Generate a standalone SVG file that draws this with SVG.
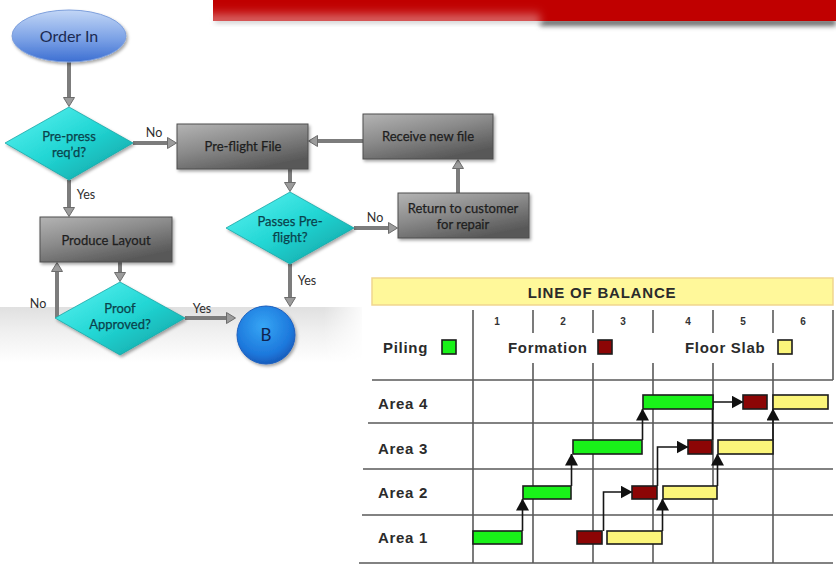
<svg xmlns="http://www.w3.org/2000/svg" width="836" height="570" viewBox="0 0 836 570">
  <defs>
    <style>
      .fc-text { font-family: "Lato", "Open Sans", "Liberation Sans", sans-serif; font-size: 13px; fill: #1e1e1e; text-anchor: middle; stroke: #1e1e1e; stroke-width: 0.25; }
      .dia-text { font-family: "Lato", "Open Sans", "Liberation Sans", sans-serif; font-size: 13px; fill: #0a434c; text-anchor: middle; stroke: #0a434c; stroke-width: 0.25; }
      .lbl { font-family: "Lato", "Open Sans", "Liberation Sans", sans-serif; font-size: 12.5px; fill: #2e2e2e; text-anchor: middle; }
      .box { fill: url(#boxGrad); stroke: #4e4e4e; stroke-width: 1; filter: url(#shadow); }
      .dia { fill: url(#diaGrad); stroke: #1aa6a6; stroke-width: 0.8; filter: url(#shadow); }
      .conn { fill: none; stroke: #7c7c7c; stroke-width: 4; marker-end: url(#fcArrow); }
      .lob-text { font-family: "Liberation Sans", Arial, sans-serif; font-weight: bold; font-size: 15px; fill: #2b2b2b; letter-spacing: 0.7px; }
      .lob-num { font-family: "Liberation Sans", Arial, sans-serif; font-weight: bold; font-size: 10px; fill: #333333; text-anchor: middle; }
      .grid { stroke: #5a5a5a; stroke-width: 1.6; fill: none; }
      .bar { stroke: #1c1c1c; stroke-width: 1.6; }
      .green { fill: #19f219; }
      .red { fill: #8c0505; }
      .yellow { fill: #fbf57a; }
      .lob-link { fill: none; stroke: #151515; stroke-width: 1.6; marker-end: url(#lobArrow); }
    </style>
    <linearGradient id="boxGrad" x1="0" y1="0" x2="0.6" y2="1">
      <stop offset="0" stop-color="#b4b4b4"/>
      <stop offset="0.5" stop-color="#8a8a8a"/>
      <stop offset="1" stop-color="#585858"/>
    </linearGradient>
    <linearGradient id="diaGrad" x1="0" y1="0" x2="1" y2="1">
      <stop offset="0" stop-color="#5ef5f3"/>
      <stop offset="0.5" stop-color="#22d6d4"/>
      <stop offset="1" stop-color="#0f9c9e"/>
    </linearGradient>
    <linearGradient id="ovalGrad" x1="0" y1="0" x2="0" y2="1">
      <stop offset="0" stop-color="#c2d6f6"/>
      <stop offset="0.55" stop-color="#7ca2e6"/>
      <stop offset="1" stop-color="#3d6fd2"/>
    </linearGradient>
    <radialGradient id="circGrad" cx="0.45" cy="0.35" r="0.7">
      <stop offset="0" stop-color="#36a6f5"/>
      <stop offset="0.7" stop-color="#1d78dc"/>
      <stop offset="1" stop-color="#1654b2"/>
    </radialGradient>
    <linearGradient id="bandGrad" x1="0" y1="0" x2="0" y2="1">
      <stop offset="0" stop-color="#e0e0e0"/>
      <stop offset="0.45" stop-color="#f0f0f0"/>
      <stop offset="1" stop-color="#ffffff"/>
    </linearGradient>
    <linearGradient id="bandFade" x1="0" y1="0" x2="1" y2="0">
      <stop offset="0" stop-color="#ffffff"/>
      <stop offset="0.88" stop-color="#ffffff"/>
      <stop offset="1" stop-color="#000000"/>
    </linearGradient>
    <mask id="bandMask">
      <rect x="0" y="300" width="368" height="70" fill="url(#bandFade)"/>
    </mask>
    <linearGradient id="sheen" x1="0" y1="0" x2="0" y2="1">
      <stop offset="0" stop-color="#ffffff" stop-opacity="0"/>
      <stop offset="1" stop-color="#ffffff" stop-opacity="0.6"/>
    </linearGradient>
    <clipPath id="barClip">
      <rect x="213" y="0" width="623" height="21"/>
    </clipPath>
    <filter id="shadow" x="-20%" y="-20%" width="140%" height="150%">
      <feDropShadow dx="1.5" dy="2" stdDeviation="1.5" flood-color="#000000" flood-opacity="0.35"/>
    </filter>
    <filter id="soft" x="-10%" y="-100%" width="120%" height="300%">
      <feGaussianBlur stdDeviation="2.5"/>
    </filter>
    <filter id="softer" x="-20%" y="-50%" width="140%" height="200%">
      <feGaussianBlur stdDeviation="4"/>
    </filter>
    <marker id="fcArrow" markerUnits="userSpaceOnUse" viewBox="0 0 10 12" markerWidth="10" markerHeight="12" refX="0" refY="6" orient="auto">
      <path d="M0.5,0.5 L9.5,6 L0.5,11.5 Z" fill="#9c9c9c" stroke="#6c6c6c" stroke-width="1"/>
    </marker>
    <marker id="lobArrow" markerUnits="userSpaceOnUse" viewBox="0 0 12 13" markerWidth="12" markerHeight="13" refX="11.5" refY="6.5" orient="auto">
      <path d="M0,0 L12,6.5 L0,13 Z" fill="#111111"/>
    </marker>
  </defs>

  <rect x="0" y="0" width="836" height="570" fill="#ffffff"/>

  <!-- header bar -->
  <g id="header-bar">
    <rect x="540" y="19" width="296" height="7" fill="#6a6a6a" filter="url(#soft)"/>
    <rect x="215" y="19" width="328" height="4" fill="#c4c4c4" filter="url(#soft)"/>
    <rect x="213" y="0" width="623" height="21" fill="#c00000"/>
    <g clip-path="url(#barClip)">
      <rect x="205" y="9" width="335" height="16" fill="url(#sheen)" filter="url(#softer)"/>
    </g>
  </g>

  <!-- shaded backdrop strip behind the lower flowchart -->
  <rect x="0" y="307" width="368" height="55" fill="url(#bandGrad)" mask="url(#bandMask)"/>

  <!-- connectors -->
  <g id="connectors">
    <path class="conn" d="M69,62 V97"/>
    <path class="conn" d="M133,143 H167"/>
    <path class="conn" d="M69,180 V207"/>
    <path class="conn" d="M290,169 V182"/>
    <path class="conn" d="M363,141 H318"/>
    <path class="conn" d="M354,228 H388"/>
    <path class="conn" d="M458,193 V169"/>
    <path class="conn" d="M290,264 V297"/>
    <path class="conn" d="M120,262 V272"/>
    <path class="conn" d="M185,318 H226"/>
    <path class="conn" d="M57,318 V272"/>
    <text class="lbl" x="154" y="137">No</text>
    <text class="lbl" x="86" y="199">Yes</text>
    <text class="lbl" x="375" y="222">No</text>
    <text class="lbl" x="307" y="285">Yes</text>
    <text class="lbl" x="202" y="313">Yes</text>
    <text class="lbl" x="38" y="308">No</text>
  </g>

  <!-- flowchart nodes -->
  <g id="order-in">
    <ellipse cx="69" cy="36" rx="57" ry="26" fill="url(#ovalGrad)" stroke="#7d9fdc" stroke-width="1" filter="url(#shadow)"/>
    <text x="69" y="42" style="font-family: 'Lato', 'Open Sans', sans-serif; font-size: 16px; fill: #1b2a52; text-anchor: middle;">Order In</text>
  </g>

  <g id="pre-press">
    <polygon class="dia" points="69,107 133,143 69,180 5,143"/>
    <text class="dia-text" x="69" y="141">Pre-press</text>
    <text class="dia-text" x="69" y="157">req’d?</text>
  </g>

  <g id="pre-flight-file">
    <rect class="box" x="177" y="124" width="131" height="45"/>
    <text class="fc-text" x="243" y="151">Pre-flight File</text>
  </g>

  <g id="receive-new-file">
    <rect class="box" x="363" y="114" width="130" height="45"/>
    <text class="fc-text" x="428" y="141">Receive new file</text>
  </g>

  <g id="passes-pre-flight">
    <polygon class="dia" points="290,192 354,228 290,264 226,228"/>
    <text class="dia-text" x="290" y="226">Passes Pre-</text>
    <text class="dia-text" x="290" y="242">flight?</text>
  </g>

  <g id="return-to-customer">
    <rect class="box" x="398" y="193" width="131" height="45"/>
    <text class="fc-text" x="463" y="213">Return to customer</text>
    <text class="fc-text" x="463" y="229">for repair</text>
  </g>

  <g id="produce-layout">
    <rect class="box" x="40" y="217" width="132" height="45"/>
    <text class="fc-text" x="106" y="245">Produce Layout</text>
  </g>

  <g id="proof-approved">
    <polygon class="dia" points="120,282 185,318 120,355 55,318"/>
    <text class="dia-text" x="120" y="313">Proof</text>
    <text class="dia-text" x="120" y="329">Approved?</text>
  </g>

  <g id="connector-b">
    <circle cx="266" cy="335" r="29" fill="url(#circGrad)" stroke="#1b5fbf" stroke-width="1" filter="url(#shadow)"/>
    <text x="266" y="341" style="font-family: 'Lato', 'Open Sans', sans-serif; font-size: 17px; fill: #0f2450; text-anchor: middle;">B</text>
  </g>

  <!-- line of balance chart -->
  <g id="line-of-balance">
    <rect x="362" y="268" width="474" height="302" fill="#ffffff"/>
    <rect x="372" y="278" width="461" height="27" fill="#fff89a" stroke="#f1d68e" stroke-width="1.5"/>
    <text class="lob-text" x="602" y="298" text-anchor="middle" style="letter-spacing: 0.8px;">LINE OF BALANCE</text>

    <!-- column numbers -->
    <text class="lob-num" x="497" y="325">1</text>
    <text class="lob-num" x="563" y="325">2</text>
    <text class="lob-num" x="623" y="325">3</text>
    <text class="lob-num" x="688" y="325">4</text>
    <text class="lob-num" x="743" y="325">5</text>
    <text class="lob-num" x="803" y="325">6</text>

    <!-- legend -->
    <text class="lob-text" x="383" y="353">Piling</text>
    <rect class="bar green" x="442" y="340" width="14" height="14"/>
    <text class="lob-text" x="508" y="353">Formation</text>
    <rect class="bar red" x="598" y="340" width="14" height="14"/>
    <text class="lob-text" x="685" y="353">Floor Slab</text>
    <rect class="bar yellow" x="778" y="340" width="14" height="14"/>

    <!-- grid -->
    <path class="grid" d="M372,380 H833 M368,423 H833 M363,469 H833 M362,515 H833 M359,563 H833"/>
    <path class="grid" d="M473,310 V563
                          M533,310 V333 M533,363 V563
                          M593,310 V333 M593,363 V563
                          M653,310 V333 M653,363 V563
                          M713,310 V333 M713,363 V563
                          M773,310 V333 M773,363 V563
                          M833,310 V380"/>

    <!-- row labels -->
    <text class="lob-text" x="378" y="409">Area 4</text>
    <text class="lob-text" x="378" y="454">Area 3</text>
    <text class="lob-text" x="378" y="498">Area 2</text>
    <text class="lob-text" x="378" y="543">Area 1</text>

    <!-- activity links -->
    <path class="lob-link" d="M522.5,531 V499"/>
    <path class="lob-link" d="M571.5,486 V454"/>
    <path class="lob-link" d="M642.5,440 V409"/>
    <path class="lob-link" d="M662.5,531 V499"/>
    <path class="lob-link" d="M717.5,486 V454"/>
    <path class="lob-link" d="M773,440 V409"/>
    <path class="lob-link" d="M603.5,531 V492 H632"/>
    <path class="lob-link" d="M657.5,486 V447 H688"/>
    <path class="lob-link" d="M712.5,440 V402 H743"/>

    <!-- activity bars -->
    <rect class="bar green" x="643" y="395" width="70" height="14"/>
    <rect class="bar red" x="743" y="395" width="24" height="14"/>
    <rect class="bar yellow" x="773" y="395" width="55" height="14"/>

    <rect class="bar green" x="573" y="440" width="69" height="14"/>
    <rect class="bar red" x="688" y="440" width="24" height="14"/>
    <rect class="bar yellow" x="718" y="440" width="55" height="14"/>

    <rect class="bar green" x="523" y="486" width="48" height="13"/>
    <rect class="bar red" x="632" y="486" width="25" height="13"/>
    <rect class="bar yellow" x="663" y="486" width="54" height="13"/>

    <rect class="bar green" x="473" y="531" width="49" height="13"/>
    <rect class="bar red" x="577" y="531" width="25" height="13"/>
    <rect class="bar yellow" x="607" y="531" width="55" height="13"/>
  </g>
</svg>
